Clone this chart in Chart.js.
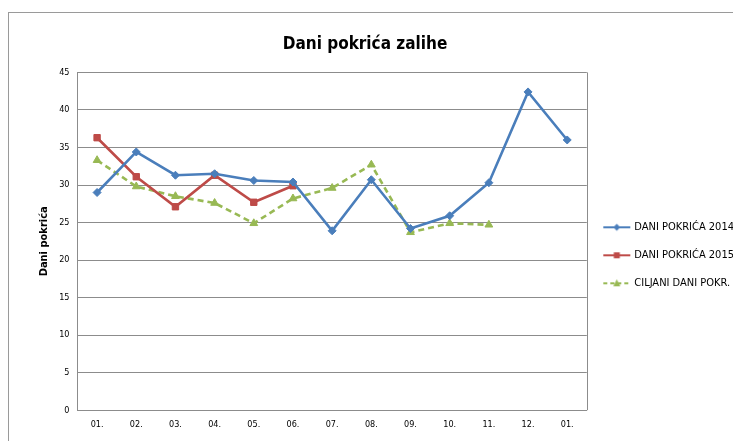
<!DOCTYPE html>
<html><head><meta charset="utf-8">
<script src="https://cdn.jsdelivr.net/npm/chart.js@4/dist/chart.umd.min.js"></script>
<style>html,body{margin:0;padding:0;background:#fff}#wrap{position:relative;width:733px;height:441px}</style>
</head><body><div id="wrap"><canvas id="c" width="733" height="441"></canvas></div>
<script>
const categories = ['01.','02.','03.','04.','05.','06.','07.','08.','09.','10.','11.','12.','01.'];
const dani2014 = [29.0,34.4,31.3,31.5,30.6,30.4,23.9,30.7,24.2,25.9,30.3,42.4,36.0];
const dani2015 = [36.3,31.1,27.1,31.3,27.7,29.9,null,null,null,null,null,null,null];
const ciljani = [33.3,29.8,28.5,27.6,24.9,28.2,29.6,32.7,23.7,24.9,24.7,null,null];
const seriesNames = ['DANI POKRIĆA 2014','DANI POKRIĆA 2015','CILJANI DANI POKR.'];
const yTicks = [0,5,10,15,20,25,30,35,40,45];

const FONT = "'Liberation Sans Narrow','DejaVu Sans Condensed','Arial Narrow',sans-serif";
const colors = ['#4A7EBB','#BE4B48','#98B954'];
const styles = ['rectRot','rect','triangle'];
const radii = [4,4.5,4.5];
const dashes = [[],[],[6,4]];

function legendIcon(i){
  const cv=document.createElement('canvas'); cv.width=30; cv.height=12;
  const g=cv.getContext('2d');
  g.strokeStyle=colors[i]; g.lineWidth=2; g.setLineDash(i===2?[4,3]:[]);
  g.beginPath(); g.moveTo(2,6); g.lineTo(29,6); g.stroke();
  g.setLineDash([]); g.fillStyle=colors[i];
  g.beginPath();
  const cx=15.5;
  if(i===0){g.moveTo(cx,2.5);g.lineTo(cx+3.5,6);g.lineTo(cx,9.5);g.lineTo(cx-3.5,6);}
  else if(i===1){g.rect(cx-3,3,6,6);}
  else {g.moveTo(cx,2);g.lineTo(cx+3.5,9);g.lineTo(cx-3.5,9);}
  g.closePath(); g.fill();
  return cv;
}

const frame = {id:'frame',
  beforeDraw(chart){const c=chart.ctx;c.save();c.strokeStyle='#9a9a9a';c.lineWidth=1;c.strokeRect(8.5,12.5,740,440);c.restore();},
  beforeDatasetsDraw(chart){const a=chart.chartArea,c=chart.ctx;c.save();c.strokeStyle='#8c8c8c';c.lineWidth=1;
    c.beginPath();c.moveTo(Math.round(a.right)+0.5,a.top);c.lineTo(Math.round(a.right)+0.5,a.bottom);c.stroke();c.restore();}
};

new Chart(document.getElementById('c'),{
  type:'line',
  data:{labels:categories,datasets:[dani2014,dani2015,ciljani].map((d,i)=>({
    label:seriesNames[i],data:d,borderColor:colors[i],backgroundColor:colors[i],
    borderWidth:2.6,borderDash:dashes[i],pointStyle:styles[i],pointRadius:radii[i],
    pointBorderWidth:1,pointBorderColor:colors[i],pointBackgroundColor:colors[i],
    tension:0,spanGaps:false,fill:false}))},
  options:{responsive:false,animation:false,
    layout:{padding:{left:-14,right:-11,top:28,bottom:2}},
    plugins:{
      title:{display:true,text:'Dani pokrića zalihe',color:'#000',font:{family:FONT,size:17,weight:'bold'},padding:{top:6,bottom:18}},
      tooltip:{enabled:false},
      legend:{position:'right',align:'center',
        title:{display:true,text:' ',font:{size:8},padding:17},
        labels:{usePointStyle:true,pointStyleWidth:25,padding:17,color:'#000',font:{family:FONT,size:11},
          generateLabels(chart){return chart.data.datasets.map((ds,i)=>({text:ds.label,pointStyle:legendIcon(i),datasetIndex:i,fillStyle:colors[i],strokeStyle:colors[i],lineWidth:0,hidden:false,fontColor:'#000'}));}}}
    },
    scales:{
      x:{offset:true,grid:{display:false,drawTicks:false},border:{color:'#8c8c8c'},
        ticks:{color:'#000',font:{family:FONT,size:9},padding:9,maxRotation:0,autoSkip:false}},
      y:{min:0,max:45,afterBuildTicks(ax){ax.ticks=yTicks.map(v=>({value:v}));},
        grid:{color:'#8c8c8c',drawTicks:false},border:{color:'#8c8c8c'},
        ticks:{color:'#000',font:{family:FONT,size:9},padding:8},
        title:{display:true,text:'Dani pokrića',color:'#000',font:{family:FONT,size:11,weight:'bold'},padding:{top:52,bottom:0}}}
    }
  },
  plugins:[frame]
});
</script></body></html>
